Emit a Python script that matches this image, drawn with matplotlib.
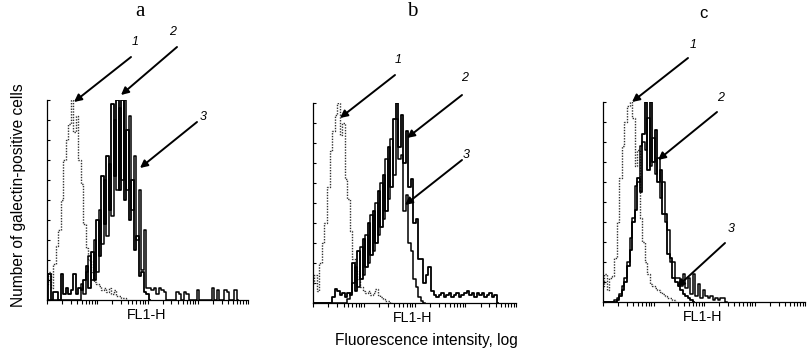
import numpy as np
import matplotlib
matplotlib.use("Agg")
import matplotlib.pyplot as plt
from matplotlib.patches import FancyArrowPatch
from matplotlib.ticker import FixedLocator, NullFormatter

W, H = 811, 351
CH_PER_DECADE = 20  # histogram channel width = 0.05 decade

# counts per channel (channel 0 = 10^0), max = 100
a1 = [8, 14, 6, 18, 27, 35, 50, 70, 80, 88, 100, 84, 92, 70, 58, 38, 26, 20, 14, 9,
      8, 7, 5, 6, 4, 6, 3, 5, 2, 2, 1, 1, 0]
a2 = [0, 13, 0, 4, 4, 0, 13, 3, 6, 3, 5, 13, 3, 6, 5, 10, 17, 6, 24, 10,
      40, 22, 62, 38, 72, 45, 98, 62, 100, 55, 100, 50, 85, 40, 60, 25, 32, 12, 14, 4,
      3, 0]
a3 = [0, 0, 0, 0, 0, 0, 0, 0, 0, 0, 0, 0, 0, 0, 8, 3, 14, 22, 10, 30,
      14, 45, 28, 60, 32, 68, 42, 90, 55, 96, 60, 100, 55, 92, 45, 72, 30, 55, 15, 35,
      6, 6, 5, 6, 3, 6, 5, 4, 0, 0, 0, 0, 4, 3, 0, 4, 3, 0, 0, 0,
      5, 0, 0, 0, 0, 0, 6, 0, 5, 0, 0, 5, 4, 0, 0, 5, 0]

b1 = [10, 14, 6, 20, 30, 40, 58, 76, 86, 94, 100, 84, 90, 62, 52, 36, 22, 16, 12, 8,
      6, 5, 6, 4, 5, 7, 4, 3, 2, 1, 1, 0]
b2 = [0, 0, 0, 0, 0, 0, 0, 0, 3, 7, 6, 4, 5, 3, 5, 4, 20, 6, 26, 12,
      32, 18, 40, 24, 46, 30, 56, 38, 64, 46, 78, 58, 92, 100, 78, 94, 70, 86, 58, 62,
      40, 42, 22, 22, 10, 14, 18, 6, 4, 3, 4, 5, 3, 4, 5, 3, 4, 5, 3, 4,
      5, 6, 4, 5, 3, 5, 4, 5, 3, 4, 5, 3, 4, 0]
b3 = [0, 0, 0, 0, 0, 0, 0, 0, 0, 0, 0, 0, 0, 0, 2, 5, 10, 18, 8, 28,
      14, 34, 20, 44, 26, 50, 34, 60, 42, 72, 52, 82, 64, 92, 72, 74, 46, 54, 30, 26,
      12, 8, 3, 1, 0]

c1 = [8, 14, 6, 12, 13, 22, 40, 62, 78, 90, 98, 100, 92, 68, 76, 42, 30, 20, 14, 9,
      8, 7, 6, 5, 4, 3, 2, 2, 1, 0]
c2 = [0, 0, 0, 0, 0, 0, 1, 3, 6, 10, 18, 26, 40, 46, 62, 55, 84, 100, 66, 100,
      70, 86, 60, 66, 44, 44, 24, 22, 12, 10, 8, 6, 4, 3, 2, 1, 0]
c3 = [0, 0, 0, 0, 0, 1, 2, 4, 8, 12, 20, 32, 42, 58, 60, 78, 80, 76, 92, 68,
      82, 64, 72, 52, 60, 40, 36, 20, 20, 12, 12, 8, 14, 7, 12, 4, 14, 3, 9, 2,
      6, 3, 2, 3, 1, 2, 1, 2, 2, 0]

panel_letters = ["a", "b", "c"]
panel_data = [(a1, a2, a3), (b1, b2, b3), (c1, c2, c3)]

# axes boxes in pixels: left, right, bottom, top
BOXES = [(47, 248, 300, 100), (313, 516, 303, 103), (603, 805, 302, 102)]
LETTER_POS = [(140, 12), (412, 12), (703, 14)]
FL_POS = [(147, 315), (413, 318), (703, 317)]
# arrows: (label, label x, label y, tail x, tail y, head x, head y)
ARROWS = [
    [("1", 135, 42, 131, 57, 74, 102), ("2", 173, 32, 177, 47, 121, 95),
     ("3", 203, 117, 197, 122, 140, 168)],
    [("1", 398, 60, 395, 75, 340, 118), ("2", 465, 78, 462, 95, 407, 138),
     ("3", 466, 155, 462, 160, 405, 205)],
    [("1", 693, 45, 688, 58, 632, 102), ("2", 721, 98, 717, 112, 658, 160),
     ("3", 731, 229, 725, 243, 677, 287)],
]

LOG_TICKS = [k * 10 ** n for n in range(4) for k in range(1, 10)] + [10 ** 4]


def fx(x):
    return x / W


def fy(y):
    return 1 - y / H


def channels_to_x(counts):
    ch = np.arange(len(counts))
    return 10 ** (ch / CH_PER_DECADE)


fig = plt.figure(figsize=(W / 100, H / 100), dpi=100)
sans = "Liberation Sans"

for i, (box, curves) in enumerate(zip(BOXES, panel_data)):
    l, r, b, t = box
    ax = fig.add_axes([fx(l), fy(b), (r - l) / W, (b - t) / H])
    dotted, s2, s3 = curves
    ax.plot(channels_to_x(dotted), dotted, drawstyle="steps-mid", color="#333333",
            lw=1.0, linestyle=(0, (1, 1)))
    ax.plot(channels_to_x(s2), s2, drawstyle="steps-mid", color="black", lw=1.3)
    ax.plot(channels_to_x(s3), s3, drawstyle="steps-mid", color="black", lw=1.1)
    ax.set_xscale("log")
    ax.set_xlim(1, 10 ** 4)
    ax.set_ylim(0, 100)
    ax.set_yticks(np.arange(0, 101, 10))
    ax.set_yticklabels([])
    ax.xaxis.set_major_locator(FixedLocator(LOG_TICKS))
    ax.xaxis.set_minor_locator(FixedLocator([]))
    ax.xaxis.set_major_formatter(NullFormatter())
    ax.tick_params(axis="y", direction="in", length=2.5, width=0.8)
    ax.tick_params(axis="x", direction="out", length=3, width=0.8)
    for side in ("top", "right"):
        ax.spines[side].set_visible(False)
    for side in ("left", "bottom"):
        ax.spines[side].set_linewidth(0.9)
    ax.patch.set_alpha(0)

    lx, ly = LETTER_POS[i]
    if i < 2:
        fig.text(fx(lx), fy(ly), panel_letters[i], ha="center", va="center",
                 fontsize=15, family="Liberation Serif")
    else:
        fig.text(fx(lx), fy(ly), panel_letters[i], ha="center", va="center",
                 fontsize=12, family=sans)
    flx, fly = FL_POS[i]
    fig.text(fx(flx), fy(fly), "FL1-H", ha="center", va="center", fontsize=10.3,
             family=sans)

    for lab, tx, ty, x0, y0, x1, y1 in ARROWS[i]:
        fig.text(fx(tx), fy(ty), lab, ha="center", va="center", fontsize=9,
                 style="italic", family=sans)
        fig.add_artist(FancyArrowPatch(
            (fx(x0), fy(y0)), (fx(x1), fy(y1)), transform=fig.transFigure,
            arrowstyle="-|>", mutation_scale=11, lw=1.4, color="black",
            shrinkA=0, shrinkB=0))

fig.text(fx(19), fy(195), "Number of galectin-positive cells", rotation=90,
         ha="center", va="center", fontsize=11.2, family=sans)
fig.text(fx(426), fy(340), "Fluorescence intensity, log", ha="center", va="center",
         fontsize=11.2, family=sans)

fig.savefig("out.png", dpi=100, facecolor="white")
